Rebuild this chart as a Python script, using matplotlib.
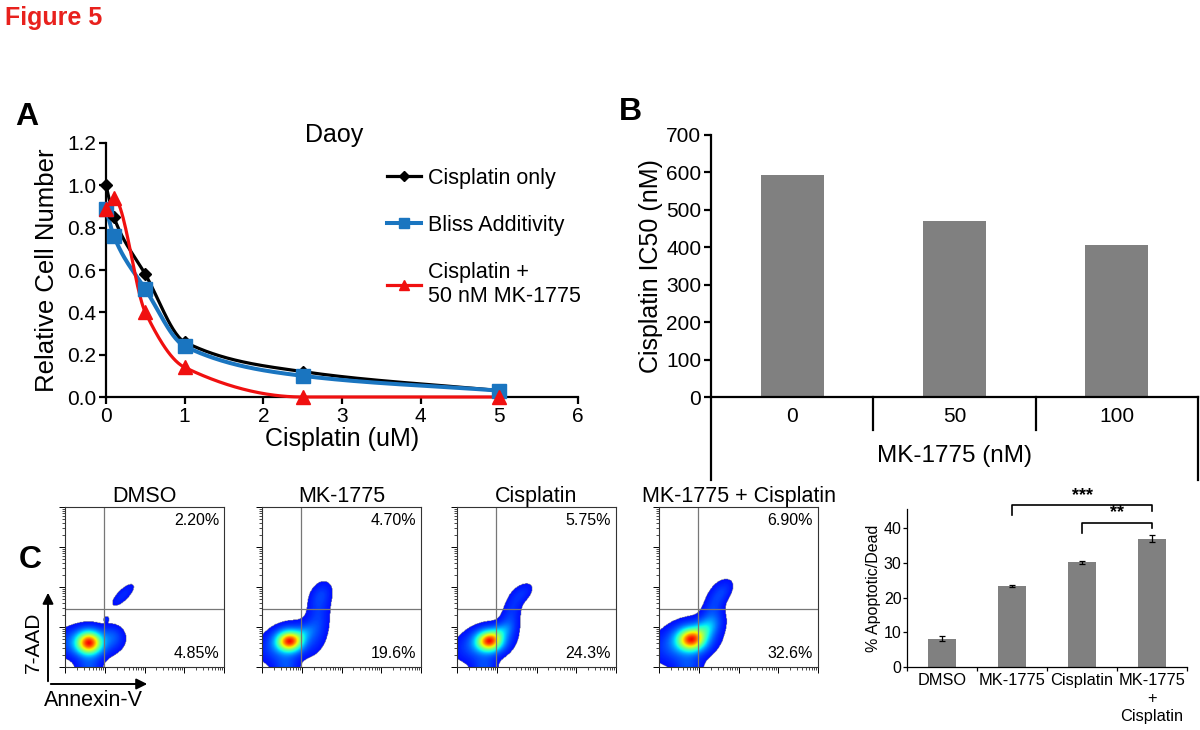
import numpy as np
import matplotlib
matplotlib.use('Agg')
import matplotlib.pyplot as plt
from matplotlib.colors import LinearSegmentedColormap
from matplotlib.lines import Line2D
from matplotlib.patches import FancyArrowPatch

plt.rcParams['font.family'] = ['Liberation Sans', 'DejaVu Sans']

# ---------------- data ----------------
dose_um = [0, 0.1, 0.5, 1, 2.5, 5]
cis_only = [1.00, 0.85, 0.58, 0.26, 0.12, 0.03]
bliss_add = [0.89, 0.76, 0.51, 0.24, 0.10, 0.03]
cis_mk = [0.89, 0.94, 0.40, 0.14, 0.00, 0.00]
series_labels = ['Cisplatin only', 'Bliss Additivity', 'Cisplatin +\n50 nM MK-1775']

mk_dose_labels = ['0', '50', '100']
ic50_nm = [594, 470, 405]

flow_titles = ['DMSO', 'MK-1775', 'Cisplatin', 'MK-1775 + Cisplatin']
upper_right_pct = ['2.20%', '4.70%', '5.75%', '6.90%']
lower_right_pct = ['4.85%', '19.6%', '24.3%', '32.6%']

# density blobs: (cx, cy, sx, sy, rho, weight) in axes fractions
blobs_dmso = [
    (0.15, 0.15, 0.050, 0.045, 0.00, 1.00),
    (0.13, 0.15, 0.110, 0.060, 0.00, 0.22),
    (0.30, 0.19, 0.045, 0.045, 0.00, 0.10),
    (0.15, 0.00, 0.050, 0.050, 0.00, 0.12),
    (0.365, 0.45, 0.052, 0.052, 0.75, 0.07),
    (0.26, 0.30, 0.012, 0.012, 0.00, 0.06),
]
blobs_mk = [
    (0.17, 0.16, 0.050, 0.040, 0.0, 1.00),
    (0.16, 0.15, 0.100, 0.070, 0.3, 0.22),
    (0.35, 0.30, 0.050, 0.120, 0.3, 0.10),
    (0.37, 0.45, 0.045, 0.050, 0.3, 0.07),
    (0.15, 0.00, 0.050, 0.050, 0.0, 0.12),
    (0.25, 0.20, 0.050, 0.040, 0.5, 0.15),
]
blobs_cis = [
    (0.20, 0.16, 0.050, 0.040, 0.0, 1.00),
    (0.17, 0.15, 0.100, 0.065, 0.3, 0.22),
    (0.33, 0.30, 0.045, 0.100, 0.5, 0.10),
    (0.41, 0.46, 0.045, 0.045, 0.5, 0.07),
    (0.17, 0.00, 0.050, 0.050, 0.0, 0.12),
    (0.26, 0.21, 0.050, 0.040, 0.5, 0.20),
]
blobs_combo = [
    (0.20, 0.17, 0.055, 0.045, 0.0, 1.00),
    (0.17, 0.16, 0.110, 0.075, 0.3, 0.26),
    (0.33, 0.32, 0.050, 0.110, 0.5, 0.12),
    (0.40, 0.47, 0.045, 0.050, 0.5, 0.08),
    (0.18, 0.00, 0.055, 0.050, 0.0, 0.12),
    (0.28, 0.23, 0.060, 0.050, 0.5, 0.25),
]
flow_blobs = [blobs_dmso, blobs_mk, blobs_cis, blobs_combo]

apop_groups = ['DMSO', 'MK-1775', 'Cisplatin', 'MK-1775\n+\nCisplatin']
apop_mean = [8.2, 23.3, 30.1, 37.0]
apop_err = [0.8, 0.4, 0.3, 0.9]

# ---------------- helpers ----------------
W, H = 1200, 730
fig = plt.figure(figsize=(12, 7.3), dpi=100)


def rect(x0, y0, x1, y1):
    return [x0 / W, 1 - y1 / H, (x1 - x0) / W, (y1 - y0) / H]


def fx(x):
    return x / W


def fy(y):
    return 1 - y / H


def pchip(x, y, n=300):
    x = np.asarray(x, float); y = np.asarray(y, float)
    h = np.diff(x); d = np.diff(y) / h
    m = np.zeros_like(x)
    m[0] = d[0]; m[-1] = d[-1]
    for k in range(1, len(x) - 1):
        if d[k - 1] * d[k] <= 0:
            m[k] = 0
        else:
            w1 = 2 * h[k] + h[k - 1]; w2 = h[k] + 2 * h[k - 1]
            m[k] = (w1 + w2) / (w1 / d[k - 1] + w2 / d[k])
    xs = np.linspace(x[0], x[-1], n)
    idx = np.clip(np.searchsorted(x, xs) - 1, 0, len(x) - 2)
    t = (xs - x[idx]) / h[idx]
    h00 = 2 * t**3 - 3 * t**2 + 1; h10 = t**3 - 2 * t**2 + t
    h01 = -2 * t**3 + 3 * t**2; h11 = t**3 - t**2
    ys = h00 * y[idx] + h10 * h[idx] * m[idx] + h01 * y[idx + 1] + h11 * h[idx] * m[idx + 1]
    return xs, ys


# ---------------- title & panel letters ----------------
fig.text(fx(5), fy(18), 'Figure 5', color='#e8211d', fontsize=18, fontweight='bold', va='center', ha='left')
fig.text(fx(27), fy(117), 'A', fontsize=23, fontweight='bold', va='center', ha='center')
fig.text(fx(630), fy(112), 'B', fontsize=23, fontweight='bold', va='center', ha='center')
fig.text(fx(30), fy(560), 'C', fontsize=23, fontweight='bold', va='center', ha='center')

# ---------------- panel A ----------------
axA = fig.add_axes(rect(106, 143, 578, 397))
styles = [
    (cis_only, 'black', 'D', 6.5, 2.3),
    (bliss_add, '#1a75c0', 's', 10, 2.9),
    (cis_mk, '#f01010', '^', 10, 2.3),
]
handles = []
for (vals, col, mk, ms, lw), lab in zip(styles, series_labels):
    xs, ys = pchip(dose_um, vals)
    axA.plot(xs, ys, color=col, lw=lw, clip_on=False, zorder=3)
    axA.plot(dose_um, vals, ls='none', marker=mk, color=col, ms=ms, clip_on=False, zorder=4)
    handles.append(Line2D([], [], color=col, lw=lw, marker=mk, ms=ms * 0.75))
axA.set_xlim(0, 6)
axA.set_ylim(0, 1.2)
axA.set_xticks(range(0, 7))
axA.set_yticks(np.arange(0, 1.21, 0.2))
axA.set_yticklabels([f'{v:.1f}' for v in np.arange(0, 1.21, 0.2)])
for s in ['top', 'right']:
    axA.spines[s].set_visible(False)
for s in ['left', 'bottom']:
    axA.spines[s].set_linewidth(1.6)
axA.tick_params(labelsize=15, width=1.6, length=5, pad=2)
axA.set_xlabel('Cisplatin (uM)', fontsize=18, labelpad=1)
axA.set_ylabel('Relative Cell Number', fontsize=18.5, labelpad=6)
axA.text(2.9, 1.24, 'Daoy', fontsize=18, ha='center', va='center')
axA.legend(handles, series_labels, loc='upper left', bbox_to_anchor=(fx(387), fy(168)),
           bbox_transform=fig.transFigure, frameon=False, fontsize=15.5, handlelength=1.6,
           handletextpad=0.3, labelspacing=1.2, borderpad=0, borderaxespad=0)

# ---------------- panel B ----------------
axB = fig.add_axes(rect(711, 135, 1198, 397))
xb = np.arange(len(ic50_nm))
axB.bar(xb, ic50_nm, width=0.39, color='#808080')
axB.set_xlim(-0.5, 2.5)
axB.set_ylim(0, 700)
axB.set_yticks(range(0, 701, 100))
axB.set_xticks(xb)
axB.set_xticklabels(mk_dose_labels)
for s in ['top', 'right']:
    axB.spines[s].set_visible(False)
for s in ['left', 'bottom']:
    axB.spines[s].set_linewidth(1.6)
axB.tick_params(axis='y', labelsize=15, width=1.6, length=5, pad=2)
axB.tick_params(axis='x', labelsize=15, length=0, pad=7)
axB.set_ylabel('Cisplatin IC50 (nM)', fontsize=18, labelpad=2)
trB = axB.get_xaxis_transform()
hB = 397 - 135
deep = -(480 - 397) / hB
shallow = -(430 - 397) / hB
for xv, yb in [(-0.5, deep), (0.5, shallow), (1.5, shallow), (2.5, deep)]:
    axB.plot([xv, xv], [0, yb], color='black', lw=1.6, transform=trB, clip_on=False)
axB.text(1.0, -(456 - 397) / hB, 'MK-1775 (nM)', transform=trB, ha='center', va='center', fontsize=17.5)

# ---------------- panel C flow plots ----------------
jet_tr = LinearSegmentedColormap.from_list('jet_tr', plt.cm.jet(np.linspace(0.14, 0.9, 256)))
flow_left = [65, 262, 457, 659]
n = 260
gx = np.linspace(0, 1, n)
GX, GY = np.meshgrid(gx, gx)
thr = 0.03
dec = np.array([i / 4 for i in range(5)])
minors = np.array([(i + np.log10(k)) / 4 for i in range(4) for k in range(2, 10)])
for i, (left, blobs) in enumerate(zip(flow_left, flow_blobs)):
    ax = fig.add_axes(rect(left, 507, left + 159, 667))
    D = np.zeros_like(GX)
    for cx, cy, sx, sy, rho, w in blobs:
        dx = (GX - cx) / sx; dy = (GY - cy) / sy
        q = (dx * dx - 2 * rho * dx * dy + dy * dy) / (1 - rho * rho)
        D += w * np.exp(-0.5 * q)
    val = np.clip((D - thr) / (D.max() - thr), 0, 1)
    val = np.ma.masked_where(D < thr, val)
    ax.imshow(val, origin='lower', extent=(0, 1, 0, 1), cmap=jet_tr, vmin=0, vmax=1,
              interpolation='bilinear', aspect='auto', zorder=1)
    ax.axvline(0.245, color='#777777', lw=0.9, zorder=2)
    ax.axhline(0.36, color='#777777', lw=0.9, zorder=2)
    ax.set_xlim(0, 1); ax.set_ylim(0, 1)
    ax.set_xticks(dec); ax.set_yticks(dec)
    ax.set_xticks(minors, minor=True); ax.set_yticks(minors, minor=True)
    ax.tick_params(which='major', length=4, width=0.7, labelbottom=False, labelleft=False)
    ax.tick_params(which='minor', length=2, width=0.5)
    for s in ax.spines.values():
        s.set_linewidth(0.8); s.set_color('#333333')
    ax.text(0.97, 0.96, upper_right_pct[i], transform=ax.transAxes, ha='right', va='top', fontsize=11.5)
    ax.text(0.97, 0.04, lower_right_pct[i], transform=ax.transAxes, ha='right', va='bottom', fontsize=11.5)
    ax.set_title(flow_titles[i], fontsize=15.5, pad=3)

# axis arrows
fig.add_artist(FancyArrowPatch((fx(48), fy(684)), (fx(48), fy(590)), transform=fig.transFigure,
                               arrowstyle='-|>', mutation_scale=16, lw=1.4, color='black'))
fig.add_artist(FancyArrowPatch((fx(48), fy(684)), (fx(150), fy(684)), transform=fig.transFigure,
                               arrowstyle='-|>', mutation_scale=16, lw=1.4, color='black'))
fig.text(fx(33), fy(642), '7-AAD', rotation=90, ha='center', va='center', fontsize=15)
fig.text(fx(93), fy(701), 'Annexin-V', ha='center', va='center', fontsize=15.5)

# ---------------- panel C bar chart ----------------
axC = fig.add_axes(rect(907, 509, 1187, 667))
xc = np.arange(len(apop_mean))
axC.bar(xc, apop_mean, width=0.4, color='#808080',
        yerr=apop_err, error_kw=dict(ecolor='black', elinewidth=0.9, capsize=2.5, capthick=0.9))
axC.set_xlim(-0.5, 3.5)
axC.set_ylim(0, 45.5)
axC.set_yticks(range(0, 41, 10))
axC.set_xticks(xc)
axC.set_xticklabels(apop_groups, fontsize=11.8, linespacing=1.25)
axC.set_xticks(np.arange(-0.5, 3.6, 1), minor=True)
for s in ['top', 'right']:
    axC.spines[s].set_visible(False)
for s in ['left', 'bottom']:
    axC.spines[s].set_linewidth(0.9)
axC.tick_params(axis='y', labelsize=11.5, width=0.9, length=3, pad=1)
axC.tick_params(axis='x', which='major', length=0, pad=4)
axC.tick_params(axis='x', which='minor', length=3, width=0.9)
axC.set_ylabel('% Apoptotic/Dead', fontsize=11.5, labelpad=2)
# significance brackets
for (a, b, ytop, yleg_a, yleg_b, stars) in [(1, 3, 46.6, 43.8, 45.0, '***'), (2, 3, 41.6, 38.6, 40.0, '**')]:
    axC.plot([a, a, b, b], [yleg_a, ytop, ytop, yleg_b], color='black', lw=1.2, clip_on=False)
    axC.text((a + b) / 2, ytop + 0.3, stars, ha='center', va='bottom', fontsize=13, fontweight='bold')

fig.savefig('out.png', dpi=100, facecolor='white')
